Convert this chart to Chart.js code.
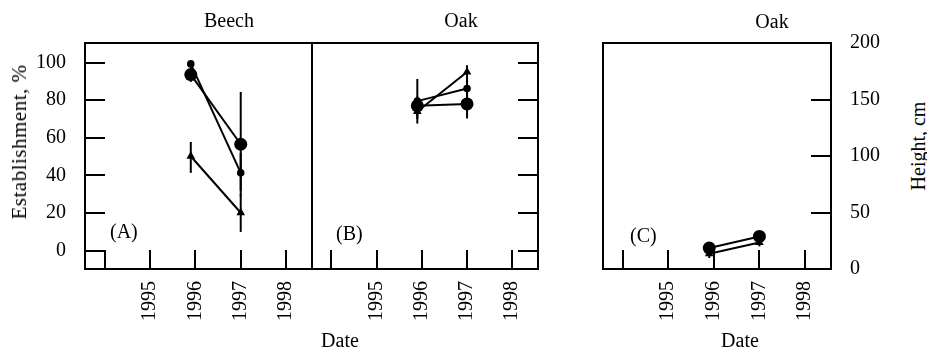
<!DOCTYPE html>
<html>
<head>
<meta charset="utf-8">
<script src="https://cdn.jsdelivr.net/npm/chart.js@4.4.1/dist/chart.umd.min.js"></script>
<style>
html,body{margin:0;padding:0;background:#fff;}
#wrap{position:relative;width:927px;height:350px;overflow:hidden;font-family:'Liberation Serif','Times New Roman',serif;color:#000;background:#fff;}
canvas{position:absolute;top:0;}
.t{position:absolute;font-size:20px;line-height:20px;white-space:nowrap;}
.c{transform:translateX(-50%);}
.r{transform:translate(-50%,-50%) rotate(-90deg);}
</style>
</head>
<body>
<div id="wrap">
  <canvas id="cA" width="320" height="350" style="left:0px"></canvas>
  <canvas id="cB" width="242" height="350" style="left:304px"></canvas>
  <canvas id="cC" width="296" height="350" style="left:595px"></canvas>

  <div class="t c" style="left:229px;top:10px">Beech</div>
  <div class="t c" style="left:461px;top:10px">Oak</div>
  <div class="t c" style="left:772px;top:11px">Oak</div>
  <div class="t c" style="left:340px;top:330px">Date</div>
  <div class="t c" style="left:740px;top:330px">Date</div>
  <div class="t" style="left:110px;top:221px">(A)</div>
  <div class="t" style="left:336px;top:223px">(B)</div>
  <div class="t" style="left:630px;top:225px">(C)</div>
  <div class="t r" style="left:19px;top:142px;font-size:21px;letter-spacing:0.5px">Establishment, %</div>
  <div class="t r" style="left:918px;top:146px">Height, cm</div>
</div>
<script>
// ---- data ----
const dateTicks = [1994, 1995, 1996, 1997, 1998];
const dateTickLabels = ['', '1995', '1996', '1997', '1998'];
const sampleDates = [1995.9, 1997.0];
const estTicks = [0, 20, 40, 60, 80, 100];
const heightTicks = [0, 50, 100, 150, 200];

// Panel A: Beech establishment, %
const beechLarge = [93.6, 56.6];
const beechLargeLo = [89.7, 28.8];
const beechLargeHi = [97.5, 84.4];
const beechSmall = [99.3, 41.4];
const beechSmallLo = [null, 32];
const beechSmallHi = [null, 52];
const beechTri = [50.2, 20.2];
const beechTriLo = [41.4, 10.0];
const beechTriHi = [57.8, 30.0];

// Panel B: Oak establishment, %
const oakLarge = [77.0, 78.0];
const oakLargeLo = [72.0, 70.3];
const oakLargeHi = [82.0, 84.0];
const oakSmall = [79.5, 86.2];
const oakSmallLo = [67.6, 81.0];
const oakSmallHi = [91.3, 91.0];
const oakTri = [74.0, 95.0];
const oakTriLo = [70.0, 89.0];
const oakTriHi = [78.0, 98.6];

// Panel C: Oak height, cm
const oakHLarge = [18.5, 28.8];
const oakHTri = [13.5, 23.5];
const oakHTriLo = [9.7, 20.0];
const oakHTriHi = [17.0, 27.0];

// ---- helpers ----
const X_MIN = 1993.57, X_MAX = 1998.57;
const EST_MIN = -9.7, EST_MAX = 110.4;
const H_MIN = 0, H_MAX = 200;
Chart.defaults.font.family = 'Liberation Serif';
const FONT = {family: 'Liberation Serif', size: 20};
const BLACK = '#000';

function fixedTicks(values) {
  return (scale) => { scale.ticks = values.map(v => ({value: v})); };
}
function noPad(s) {
  s.paddingLeft = 0; s.paddingRight = 0; s.paddingTop = 0; s.paddingBottom = 0;
}
function xAxis() {
  return {
    type: 'linear', position: 'bottom', axis: 'x', min: X_MIN, max: X_MAX,
    afterBuildTicks: fixedTicks(dateTicks),
    afterFit: s => { s.height = 81; noPad(s); },
    grid: {display: true, drawOnChartArea: false, drawTicks: true, tickLength: -19, color: BLACK, lineWidth: 2},
    border: {display: true, color: BLACK, width: 2},
    ticks: {color: BLACK, font: FONT, padding: 31, minRotation: 90, maxRotation: 90, autoSkip: false,
            callback: (v, i) => dateTickLabels[i]}
  };
}
function yAxis(position, min, max, tickVals, showLabels, width) {
  return {
    type: 'linear', position: position, axis: 'y', min: min, max: max,
    afterBuildTicks: fixedTicks(tickVals),
    afterFit: s => { s.width = width; noPad(s); },
    grid: {display: true, drawOnChartArea: false, drawTicks: true, tickLength: -20, color: BLACK, lineWidth: 2},
    border: {display: true, color: BLACK, width: 2},
    ticks: {display: showLabels, color: BLACK, font: FONT, padding: 39, callback: v => String(v)}
  };
}
function frameAxis(position, axis) {
  return {
    type: 'linear', position: position, axis: axis, display: true,
    grid: {display: false}, ticks: {display: false},
    border: {display: true, color: BLACK, width: 2},
    afterFit: s => { if (axis === 'x') s.height = 0; else s.width = 0; noPad(s); }
  };
}
function seriesDS(values, style, radius) {
  return {
    data: sampleDates.map((x, i) => ({x: x, y: values[i]})),
    showLine: true, borderColor: BLACK, borderWidth: 2,
    backgroundColor: BLACK, pointBackgroundColor: BLACK, pointBorderColor: BLACK,
    pointBorderWidth: 0, pointStyle: style, pointRadius: radius,
    xAxisID: 'x', yAxisID: 'y'
  };
}
function errDS(lo, hi) {
  const out = [];
  sampleDates.forEach((x, i) => {
    if (lo[i] === null || hi[i] === null) return;
    out.push({
      data: [{x: x, y: lo[i]}, {x: x, y: hi[i]}],
      showLine: true, borderColor: BLACK, borderWidth: 2, pointRadius: 0,
      xAxisID: 'x', yAxisID: 'y'
    });
  });
  return out;
}
function baseOptions(scales, padding) {
  return {
    responsive: false, animation: false, devicePixelRatio: 1, events: [],
    layout: {padding: padding},
    plugins: {legend: {display: false}, tooltip: {enabled: false}, title: {display: false}},
    scales: scales
  };
}

// Panel A
new Chart(document.getElementById('cA'), {
  type: 'scatter',
  data: {datasets: [
    seriesDS(beechLarge, 'circle', 6.5),
    seriesDS(beechSmall, 'circle', 3.8),
    seriesDS(beechTri, 'triangle', 5),
    ...errDS(beechLargeLo, beechLargeHi),
    ...errDS(beechSmallLo, beechSmallHi),
    ...errDS(beechTriLo, beechTriHi)
  ]},
  options: baseOptions({
    x: xAxis(),
    y: yAxis('left', EST_MIN, EST_MAX, estTicks, true, 85),
    xTop: frameAxis('top', 'x'),
    yRight: frameAxis('right', 'y')
  }, {top: 43, right: 8, left: 0, bottom: 0})
});

// Panel B
new Chart(document.getElementById('cB'), {
  type: 'scatter',
  data: {datasets: [
    seriesDS(oakLarge, 'circle', 6.5),
    seriesDS(oakSmall, 'circle', 3.8),
    seriesDS(oakTri, 'triangle', 5),
    ...errDS(oakLargeLo, oakLargeHi),
    ...errDS(oakSmallLo, oakSmallHi),
    ...errDS(oakTriLo, oakTriHi)
  ]},
  options: baseOptions({
    x: xAxis(),
    y: yAxis('right', EST_MIN, EST_MAX, estTicks, false, 0),
    xTop: frameAxis('top', 'x'),
    yLeft: frameAxis('left', 'y')
  }, {top: 43, right: 8, left: 8, bottom: 0})
});

// Panel C
new Chart(document.getElementById('cC'), {
  type: 'scatter',
  data: {datasets: [
    seriesDS(oakHLarge, 'circle', 6.5),
    seriesDS(oakHTri, 'triangle', 5),
    ...errDS(oakHTriLo, oakHTriHi)
  ]},
  options: baseOptions({
    x: xAxis(),
    y: yAxis('right', H_MIN, H_MAX, heightTicks, true, 60),
    xTop: frameAxis('top', 'x'),
    yLeft: frameAxis('left', 'y')
  }, {top: 43, right: 0, left: 8, bottom: 0})
});
</script>
</body>
</html>
